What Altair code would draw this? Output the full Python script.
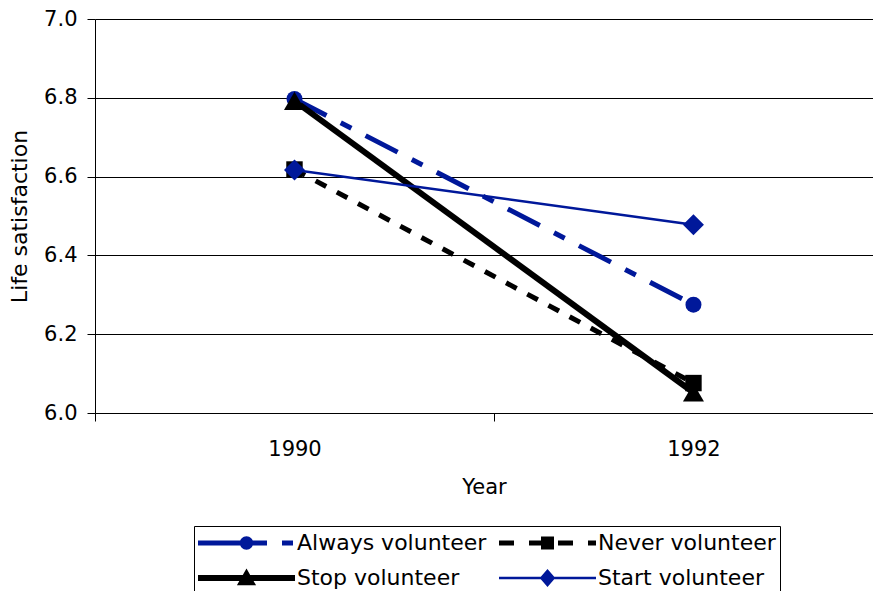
import altair as alt
import pandas as pd

# ---- data ----
years = [1990, 1992]
series_names = ["Always volunteer", "Never volunteer", "Stop volunteer", "Start volunteer"]
always = [6.797, 6.275]
never = [6.618, 6.076]
stop = [6.792, 6.052]
start = [6.617, 6.478]

y_ticks = [6.0, 6.2, 6.4, 6.6, 6.8, 7.0]
x_tick_values = [1989, 1990, 1991, 1992]

rows = []
for name, vals in zip(series_names, [always, never, stop, start]):
    for yr, v in zip(years, vals):
        rows.append({"year": yr, "value": v, "series": name})
df = pd.DataFrame(rows)

# ---- styles ----
NAVY = "#00189A"
colors = [NAVY, "black", "black", NAVY]
dashes = [[36, 16, 12, 16], [12, 12], None, None]
widths = [5, 5, 6, 2.5]
marker_shapes = ["circle", "square", "triangle-up", "diamond"]
marker_sizes = [256, 270, 441, 441]
FONT = "DejaVu Sans"

# ---- legend symbols: line pattern + marker as one custom path (pixels / 48.5) ----
U = 48.5


def n(v):
    return ("%.4f" % (v / U)).rstrip("0").rstrip(".")


def rect(x0, x1, h):
    return "M%s,%sL%s,%sL%s,%sL%s,%sZ" % (n(x0), n(-h), n(x1), n(-h), n(x1), n(h), n(x0), n(h))


def circle(r):
    k = 0.5523 * r
    return (
        "M%s,0C%s,%s,%s,%s,0,%s" % (n(r), n(r), n(k), n(k), n(r), n(r))
        + "C%s,%s,%s,%s,%s,0" % (n(-k), n(r), n(-r), n(k), n(-r))
        + "C%s,%s,%s,%s,0,%s" % (n(-r), n(-k), n(-k), n(-r), n(-r))
        + "C%s,%s,%s,%s,%s,0Z" % (n(k), n(-r), n(r), n(-k), n(r))
    )


def square(s):
    return "M%s,%sL%s,%sL%s,%sL%s,%sZ" % (n(-s), n(-s), n(s), n(-s), n(s), n(s), n(-s), n(s))


def triangle(top, bottom, half):
    return "M0,%sL%s,%sL%s,%sZ" % (n(-top), n(half), n(bottom), n(-half), n(bottom))


def diamond(hw, hh):
    return "M0,%sL%s,0L0,%sL%s,0Z" % (n(-hh), n(hw), n(hh), n(-hw))


legend_paths = [
    rect(-48.5, 20.5, 2.5) + rect(35.5, 46.5, 2.5) + circle(6.7),
    rect(-48.5, -33.5, 2.5) + rect(-18.5, -6.5, 2.5) + square(6.5)
    + rect(10.5, 25.5, 2.5) + rect(40.5, 48.5, 2.5),
    rect(-48.5, 48.5, 2.9) + triangle(9.4, 7.3, 9.6),
    rect(-48.5, 48.5, 1.25) + diamond(7.8, 9.0),
]

legend = alt.Legend(
    title=None,
    orient="none",
    legendX=99,
    legendY=507,
    columns=2,
    direction="horizontal",
    labelFont=FONT,
    labelFontSize=22,
    labelColor="black",
    labelLimit=400,
    labelOffset=2,
    symbolSize=U * U * 4,
    symbolStrokeWidth=0,
    symbolOpacity=1,
    clipHeight=26,
    rowPadding=9,
    columnPadding=12,
    padding=4,
    strokeColor="black",
    fillColor="white",
)

x_enc = alt.X(
    "year:Q",
    scale=alt.Scale(domain=[1989, 1992.9], nice=False, zero=False),
    axis=alt.Axis(
        values=x_tick_values,
        format="d",
        labelExpr="(datum.value == 1990 || datum.value == 1992) ? datum.label : ''",
        tickOpacity={"condition": {"test": "datum.value == 1990 || datum.value == 1992", "value": 0}, "value": 1},
        tickSize=8,
        tickColor="black",
        domainColor="black",
        grid=False,
        labelFont=FONT,
        labelFontSize=21,
        labelColor="black",
        labelPadding=17,
        labelFlush=False,
        labelOverlap=False,
        title="Year",
        titleFont=FONT,
        titleFontSize=21,
        titleFontWeight="normal",
        titleColor="black",
        titlePadding=17,
    ),
)
y_enc = alt.Y(
    "value:Q",
    scale=alt.Scale(domain=[6.0, 7.0], nice=False, zero=False),
    axis=alt.Axis(
        values=y_ticks,
        format=".1f",
        tickSize=8,
        tickColor="black",
        domainColor="black",
        grid=True,
        gridColor="black",
        gridWidth=1,
        labelFont=FONT,
        labelFontSize=21,
        labelColor="black",
        labelPadding=10,
        labelFlush=False,
        title="Life satisfaction",
        titleFont=FONT,
        titleFontSize=22,
        titleFontWeight="normal",
        titleColor="black",
        titlePadding=12,
    ),
)

base = alt.Chart(df)

line_layers = []
point_layers = []
for name, col, dash, w, shp, sz in zip(series_names, colors, dashes, widths, marker_shapes, marker_sizes):
    kw = dict(color=col, strokeWidth=w)
    if dash is not None:
        kw["strokeDash"] = dash
    line_layers.append(
        base.transform_filter(alt.datum.series == name).mark_line(**kw).encode(x=x_enc, y=y_enc)
    )
    point_layers.append(
        base.transform_filter(alt.datum.series == name)
        .mark_point(filled=True, opacity=1, shape=shp, size=sz, color=col)
        .encode(x=x_enc, y=y_enc)
    )

legend_layer = (
    base.transform_filter("false")
    .mark_point(filled=True, opacity=1)
    .encode(
        x=x_enc,
        y=y_enc,
        fill=alt.Fill("series:N", scale=alt.Scale(domain=series_names, range=colors), legend=legend),
        shape=alt.Shape("series:N", scale=alt.Scale(domain=series_names, range=legend_paths), legend=legend),
    )
)

chart = (
    alt.layer(*line_layers, *point_layers, legend_layer)
    .properties(
        width=778,
        height=394,
        autosize=alt.AutoSizeParams(type="none"),
        padding={"left": 87, "top": 11, "right": 0, "bottom": 178},
        background="white",
    )
    .configure_view(strokeOpacity=0)
)

chart.save("out.html", embed_options={"renderer": "svg", "actions": False})
